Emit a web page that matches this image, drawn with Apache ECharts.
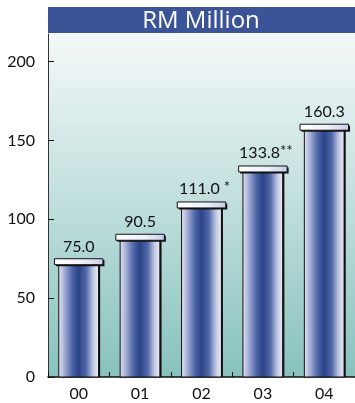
<!DOCTYPE html>
<html>
<head>
<meta charset="utf-8">
<script src="https://cdn.jsdelivr.net/npm/echarts@6/dist/echarts.min.js"></script>
<style>
  html, body { margin: 0; padding: 0; background: #ffffff; }
  #chart { width: 355px; height: 403px; }
</style>
</head>
<body>
<div id="chart"></div>
<script>
// Revenue, RM million, by financial year
const years = ['00', '01', '02', '03', '04'];
const revenue = [75.0, 90.5, 111.0, 133.8, 160.3];
const notes = ['', '', ' *', '**', ''];
const yTicks = [0, 50, 100, 150, 200];

const FONT = 'Lato, "Open Sans", sans-serif';

const bodyGradient = new echarts.graphic.LinearGradient(0, 0, 1, 0, [
  { offset: 0, color: '#e6e8f4' },
  { offset: 0.14, color: '#aab2d8' },
  { offset: 0.35, color: '#4a62a6' },
  { offset: 0.5, color: '#2c4387' },
  { offset: 0.68, color: '#5068a8' },
  { offset: 0.86, color: '#c4cae4' },
  { offset: 1, color: '#eef0f8' }
]);
const capGradient = new echarts.graphic.LinearGradient(0, 0, 1, 0, [
  { offset: 0, color: '#ffffff' },
  { offset: 0.6, color: '#eef0f8' },
  { offset: 1, color: '#c6cce6' }
]);

function renderColumn(params, api) {
  const idx = api.value(0);
  const val = api.value(1);
  const basePt = api.coord([idx, 0]);
  const topPt = api.coord([idx, val]);
  const cx = basePt[0];
  const base = basePt[1];
  const top = topPt[1];
  const band = api.size([1, 0])[0];
  const bodyW = band * 0.65;
  const capW = band * 0.79;
  const capH = 6;
  const note = notes[params.dataIndex];
  return {
    type: 'group',
    children: [
      // body
      {
        type: 'rect',
        shape: { x: cx - bodyW / 2, y: top + capH, width: bodyW, height: base - top - capH },
        style: { fill: bodyGradient, stroke: '#111', lineWidth: 1 }
      },
      // right-hand shadow of body
      {
        type: 'rect',
        shape: { x: cx + bodyW / 2 - 0.5, y: top + capH, width: 2, height: base - top - capH },
        style: { fill: '#111' }
      },
      // cap shadow
      {
        type: 'rect',
        shape: { x: cx - capW / 2 + 1.5, y: top + 1.5, width: capW, height: capH },
        style: { fill: '#111' }
      },
      // cap
      {
        type: 'rect',
        shape: { x: cx - capW / 2, y: top, width: capW, height: capH },
        style: { fill: capGradient, stroke: '#111', lineWidth: 1 }
      },
      // value label
      {
        type: 'text',
        x: cx + (note ? 3 : 0),
        y: top - 4,
        style: {
          text: val.toFixed(1) + (note ? '{n|' + note + '}' : ''),
          fill: '#111',
          font: '16px ' + FONT,
          align: 'center',
          verticalAlign: 'bottom',
          rich: {
            n: { fontSize: 15, fontFamily: FONT, fill: '#111', verticalAlign: 'top', padding: [0, 0, 3, 0] }
          }
        }
      }
    ]
  };
}

const chart = echarts.init(document.getElementById('chart'), null, { renderer: 'canvas' });

chart.setOption({
  animation: false,
  grid: { left: 48, right: 0, top: 34, bottom: 26 },
  graphic: [
    {
      type: 'rect',
      z: -10,
      shape: { x: 48, y: 33, width: 307, height: 344 },
      style: {
        fill: new echarts.graphic.LinearGradient(0, 0, 0, 1, [
          { offset: 0, color: '#f5f9f9' },
          { offset: 0.5, color: '#bfdedc' },
          { offset: 1, color: '#88c2bd' }
        ])
      }
    },
    {
      type: 'rect',
      shape: { x: 48, y: 7, width: 307, height: 26 },
      style: { fill: '#3b5497' }
    },
    {
      type: 'text',
      x: 201,
      y: 21,
      style: {
        text: 'RM Million',
        fill: '#ffffff',
        font: '24px "Open Sans", sans-serif',
        align: 'center',
        verticalAlign: 'middle'
      }
    }
  ],
  xAxis: {
    type: 'category',
    data: years,
    boundaryGap: true,
    axisLine: { lineStyle: { color: '#111', width: 1.5 } },
    axisTick: { show: true, inside: true, length: 5, alignWithLabel: false, lineStyle: { color: '#111' } },
    axisLabel: { color: '#111', fontSize: 16, fontFamily: FONT, margin: 9 }
  },
  yAxis: {
    type: 'value',
    min: 0,
    max: 217.5,
    interval: 50,
    splitLine: { show: false },
    axisLine: { show: true, lineStyle: { color: '#333', width: 1 } },
    axisTick: { show: true, inside: true, length: 6, customValues: yTicks, lineStyle: { color: '#111' } },
    axisLabel: { color: '#111', fontSize: 16, fontFamily: FONT, margin: 13, customValues: yTicks }
  },
  series: [
    {
      type: 'custom',
      renderItem: renderColumn,
      encode: { x: 0, y: 1 },
      data: revenue.map((v, i) => [i, v]),
      clip: false
    }
  ]
});
</script>
</body>
</html>
